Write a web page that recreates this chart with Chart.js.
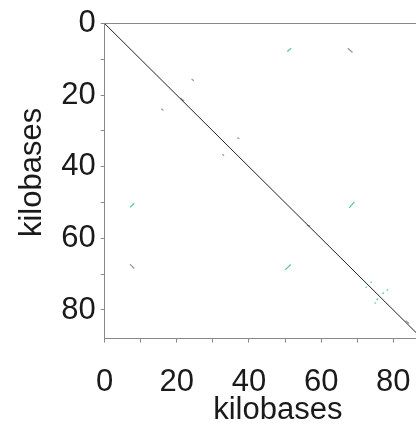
<!DOCTYPE html>
<html>
<head>
<meta charset="utf-8">
<script src="https://cdn.jsdelivr.net/npm/chart.js@4/dist/chart.umd.min.js"></script>
<style>
  html, body { margin: 0; padding: 0; background: #fff; overflow: hidden; }
  #dotplot { display: block; }
</style>
</head>
<body>
<canvas id="dotplot" width="460" height="425"></canvas>
<script>
// self comparison, both axes in kilobases
var seqLength = 88;
var xAxisMax = 96;
var tickValues = [0, 20, 40, 60, 80];

// main diagonal (sequence against itself)
var diagonal = [[0, 0], [88, 88]];

// same strand hits: x1, y1, x2, y2
var directHits = [
  [67.4, 6.9, 68.7, 8.1],
  [7.0, 67.2, 8.2, 68.4],
  [24.1, 15.5, 24.7, 16.0],
  [15.7, 23.8, 16.3, 24.3],
  [36.8, 31.8, 37.3, 32.2],
  [32.6, 36.5, 33.1, 36.9],
  [21.0, 20.8, 22.0, 21.6],
  [56.1, 56.3, 57.0, 56.6],
  [83.4, 83.0, 84.4, 83.8]
];

// reverse strand hits: x1, y1, x2, y2
var invertedHits = [
  [50.6, 7.8, 51.7, 6.9],
  [7.1, 51.3, 8.2, 50.2],
  [67.8, 51.5, 69.2, 49.8],
  [50.0, 68.8, 51.6, 67.3],
  [73.7, 72.4, 74.0, 72.1],
  [72.4, 73.8, 72.6, 73.5],
  [77.0, 75.5, 77.4, 75.1],
  [78.2, 74.6, 78.5, 74.3],
  [75.4, 77.2, 75.8, 76.8],
  [74.9, 78.2, 75.1, 77.9]
];

var datasets = [{
  data: diagonal.map(function (p) { return {x: p[0], y: p[1]}; }),
  borderColor: '#222222',
  borderWidth: 1
}];

function addHits(list, color) {
  list.forEach(function (h) {
    datasets.push({
      data: [{x: h[0], y: h[1]}, {x: h[2], y: h[3]}],
      borderColor: color,
      borderWidth: 1.3
    });
  });
}
addHits(directHits, '#9a9a9a');
addHits(invertedHits, '#5cc9a2');

datasets.forEach(function (d) {
  d.showLine = true;
  d.pointRadius = 0;
  d.fill = false;
});

var labelFont = {family: '"Liberation Sans", Arial, sans-serif', size: 31};
function tickLabel(v) {
  return tickValues.indexOf(v) >= 0 ? String(v) : '';
}

var ctx = document.getElementById('dotplot').getContext('2d');
var chart = new Chart(ctx, {
  type: 'scatter',
  data: {datasets: datasets},
  options: {
    responsive: false,
    animation: false,
    layout: {padding: {top: 4, right: 9, bottom: -4, left: 14}},
    plugins: {legend: {display: false}, tooltip: {enabled: false}},
    scales: {
      x: {
        type: 'linear',
        position: 'bottom',
        min: 0,
        max: xAxisMax,
        border: {color: '#888888', width: 1},
        grid: {drawOnChartArea: false, tickLength: 4, color: '#888888'},
        ticks: {stepSize: 10, includeBounds: false, callback: tickLabel,
                maxRotation: 0, autoSkip: false, padding: 21, color: '#1a1a1a', font: labelFont},
        title: {display: true, text: 'kilobases', color: '#1a1a1a', font: labelFont,
                padding: {top: -30, bottom: 0}}
      },
      xTop: {
        type: 'linear',
        position: 'top',
        min: 0,
        max: xAxisMax,
        border: {color: '#888888', width: 1},
        grid: {drawOnChartArea: false, drawTicks: false},
        ticks: {display: false}
      },
      y: {
        type: 'linear',
        reverse: true,
        min: 0,
        max: seqLength,
        border: {color: '#888888', width: 1},
        grid: {drawOnChartArea: false, tickLength: 4, color: '#888888'},
        ticks: {stepSize: 10, includeBounds: false, callback: tickLabel,
                autoSkip: false, padding: 5, color: '#1a1a1a', font: labelFont},
        title: {display: true, text: '  kilobases', color: '#1a1a1a', font: labelFont,
                padding: {top: 0, bottom: 5}}
      }
    }
  }
});
</script>
</body>
</html>
